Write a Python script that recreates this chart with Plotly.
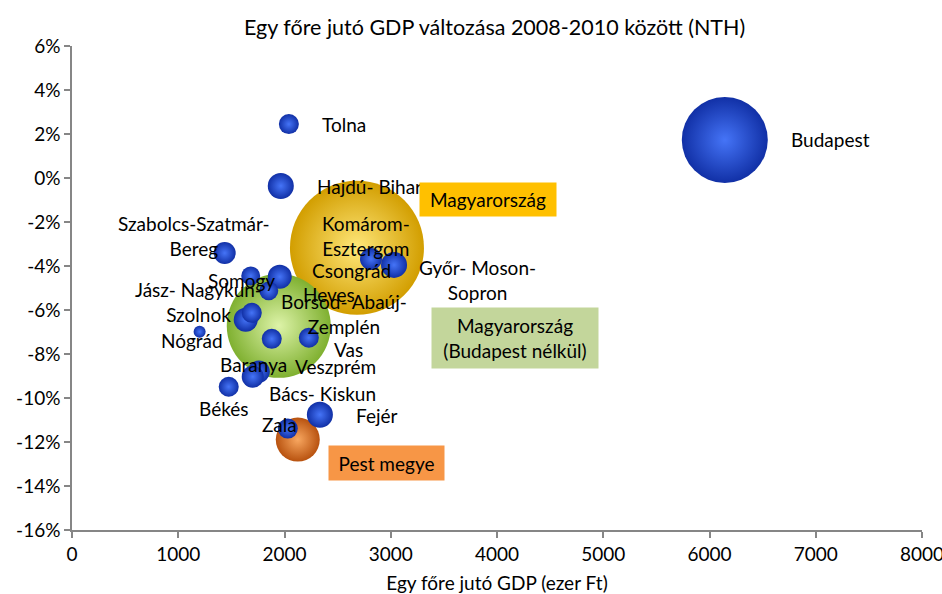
import plotly.graph_objects as go

# ---- data ----
counties = ["Budapest", "Tolna", "Hajdú- Bihar", "Szabolcs-Szatmár-<br>Bereg", "Somogy",
            "Csongrád", "Heves", "Komárom-<br>Esztergom", "Győr- Moson-<br>Sopron",
            "Borsod- Abaúj-<br>Zemplén", "Jász- Nagykun-<br>Szolnok", "Nógrád", "Veszprém", "Vas",
            "Baranya", "Bács- Kiskun", "Békés", "Fejér", "Zala"]
gdp_per_capita = [6144, 2041, 1965, 1437, 1682, 1955, 1852, 2814, 3031,
                  1635, 1692, 1201, 1880, 2229, 1758, 1701, 1475, 2333, 2031]
gdp_change = [1.73, 2.45, -0.36, -3.41, -4.45, -4.49, -5.13, -3.68, -3.95,
              -6.44, -6.13, -6.99, -7.31, -7.26, -8.80, -9.03, -9.49, -10.76, -11.39]
gdp_total = [10915, 590, 1000, 715, 530, 850, 530, 715, 1000,
             850, 590, 213, 590, 590, 715, 715, 590, 1000, 590]

aggregates = ["Magyarország", "Magyarország<br>(Budapest nélkül)", "Pest megye"]
agg_per_capita = [2682, 1946, 2125]
agg_change = [-3.17, -6.72, -11.89]
agg_total = [26500, 15962, 2857]

x_ticks = [0, 1000, 2000, 3000, 4000, 5000, 6000, 7000, 8000]
y_ticks = [6, 4, 2, 0, -2, -4, -6, -8, -10, -12, -14, -16]

# ---- styling (label offsets in px: dx right, dy down) ----
label_offsets = {
    "Budapest": (106, 0), "Tolna": (55, 0), "Hajdú- Bihar": (89, 1),
    "Szabolcs-Szatmár-<br>Bereg": (-31, -17), "Somogy": (-9, 5),
    "Csongrád": (72, -6), "Heves": (60, 4), "Komárom-<br>Esztergom": (-5, -23),
    "Győr- Moson-<br>Sopron": (83, 15), "Borsod- Abaúj-<br>Zemplén": (98, -6),
    "Jász- Nagykun-<br>Szolnok": (-53, -11), "Nógrád": (-8, 9), "Veszprém": (64, 28),
    "Vas": (40, 12), "Baranya": (-5, -7), "Bács- Kiskun": (70, 17), "Békés": (-5, 22),
    "Fejér": (57, 1), "Zala": (-8, -4),
}
agg_style = {
    "Magyarország": dict(edge="#D29E00", center="#FFE77A", box="#FFC000",
                         off=(131, -48), w=132, h=29),
    "Magyarország<br>(Budapest nélkül)": dict(edge="#7FB030", center="#DDF3A8", box="#C3D69B",
                                              off=(236, 12), w=162, h=56),
    "Pest megye": dict(edge="#B8520F", center="#F8A760", box="#F79646",
                       off=(89, 23), w=111, h=30),
}

FONT = "Lato, 'Open Sans', sans-serif"
SIZEREF = 2 * 26500 / (134 ** 2)

fig = go.Figure()

for name, xv, yv, sv in zip(aggregates, agg_per_capita, agg_change, agg_total):
    st = agg_style[name]
    fig.add_trace(go.Scatter(
        x=[xv], y=[yv], mode="markers", name=name,
        marker=dict(size=[sv], sizemode="area", sizeref=SIZEREF, color=st["edge"],
                    gradient=dict(type="radial", color=st["center"]),
                    line=dict(width=0), opacity=1),
        hoverinfo="skip"))

fig.add_trace(go.Scatter(
    x=gdp_per_capita, y=gdp_change, mode="markers", name="Megyék",
    marker=dict(size=gdp_total, sizemode="area", sizeref=SIZEREF, color="#1130A6",
                gradient=dict(type="radial", color="#4574F7"),
                line=dict(width=0), opacity=1),
    text=counties, hoverinfo="text"))

annotations = []
for name, xv, yv in zip(counties, gdp_per_capita, gdp_change):
    dx, dy = label_offsets[name]
    annotations.append(dict(x=xv, y=yv, xref="x", yref="y", text=name, showarrow=False,
                            xshift=dx, yshift=-dy, font=dict(family=FONT, size=19, color="#000000")))
for name, xv, yv in zip(aggregates, agg_per_capita, agg_change):
    st = agg_style[name]
    dx, dy = st["off"]
    annotations.append(dict(x=xv, y=yv, xref="x", yref="y", text=name, showarrow=False,
                            xshift=dx, yshift=-dy, bgcolor=st["box"], borderpad=2,
                            width=st["w"], height=st["h"], align="center", valign="middle",
                            font=dict(family=FONT, size=19, color="#000000")))

fig.update_layout(
    width=942, height=594,
    margin=dict(l=72, r=20, t=46, b=64),
    paper_bgcolor="white", plot_bgcolor="white",
    showlegend=False,
    font=dict(family=FONT, size=19, color="#000000"),
    title=dict(text="Egy főre jutó GDP változása 2008-2010 között (NTH)",
               x=0.525, xanchor="center", y=0.953, yanchor="middle",
               font=dict(family=FONT, size=21.5, color="#000000")),
    annotations=annotations,
)
fig.update_xaxes(range=[0, 8000], tickvals=x_ticks, ticktext=[str(v) for v in x_ticks],
                 automargin=False, ticklabeloverflow="allow",
                 showgrid=False, zeroline=False, showline=True, linecolor="#868686", linewidth=1.5,
                 ticks="outside", ticklen=6, tickcolor="#868686", tickwidth=1.5,
                 tickfont=dict(family=FONT, size=19, color="#000000"),
                 title=dict(text="Egy főre jutó GDP (ezer Ft)", standoff=14,
                            font=dict(family=FONT, size=19, color="#000000")))
fig.update_yaxes(range=[-16, 6], tickvals=y_ticks, ticktext=[f"{v}%" for v in y_ticks],
                 automargin=False, ticklabeloverflow="allow",
                 showgrid=False, zeroline=False, showline=True, linecolor="#868686", linewidth=1.5,
                 ticks="outside", ticklen=6, tickcolor="#868686", tickwidth=1.5,
                 tickfont=dict(family=FONT, size=19, color="#000000"))

fig.write_html("out.html", config={"displayModeBar": False},
               post_script="document.body.style.margin='0';document.body.style.padding='0';")
